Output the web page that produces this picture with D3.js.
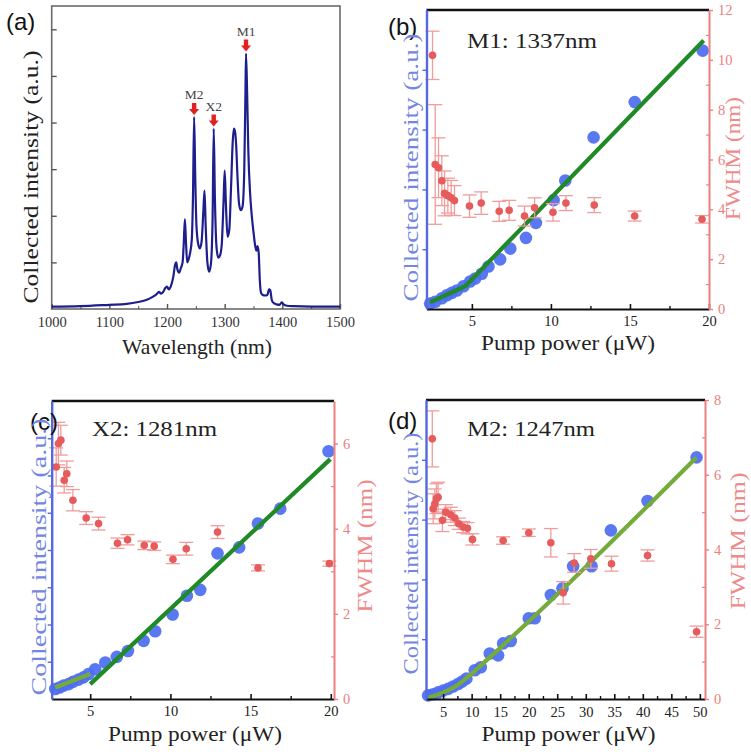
<!DOCTYPE html>
<html><head><meta charset="utf-8">
<script src="https://cdn.jsdelivr.net/npm/d3@7"></script>
<style>body{margin:0;background:#fff}svg{display:block}</style>
</head><body>
<script>
// ---------- DATA ----------
// (a) spectrum
const specWavelength = [1000,1050,1100,1130,1150,1165,1175,1182,1186,1189,1193,1197,1200,1203,1207,1211,1214,1216,1218,1221,1224,1227,1229,1231,1233,1235,1237,1240,1243,1245,1247,1249,1251,1254,1257,1260,1263,1265,1267,1270,1273,1276,1279,1281,1283,1286,1289,1292,1295,1298,1300,1302,1305,1308,1311,1314,1316,1318,1320,1322,1325,1328,1331,1334,1336,1337,1339,1341,1344,1347,1350,1353,1355,1357,1359,1361,1363,1366,1370,1374,1377,1379,1382,1386,1390,1395,1399,1402,1408,1420,1450,1500];
const specIntensity = [0.05,0.06,0.09,0.11,0.15,0.20,0.26,0.32,0.37,0.33,0.36,0.45,0.48,0.42,0.50,0.70,0.95,1.00,0.85,0.78,0.88,1.00,1.40,1.93,1.40,1.00,1.05,1.20,1.50,2.40,4.12,2.80,1.80,1.40,1.30,1.45,2.10,2.54,1.80,1.00,0.80,0.95,1.90,3.87,2.40,1.30,1.10,1.15,1.40,2.30,2.97,2.30,1.55,1.70,2.60,3.60,3.87,3.80,3.50,2.90,2.25,2.12,2.20,3.00,4.60,5.48,4.60,3.40,2.50,2.00,1.65,1.35,1.25,1.35,1.20,0.60,0.35,0.30,0.29,0.30,0.42,0.40,0.18,0.12,0.10,0.09,0.14,0.10,0.07,0.06,0.05,0.05];
const specTicks = [1000,1100,1200,1300,1400,1500];
const peakNames = ["M1","M2","X2"];
const peakWavelength = [1337,1247,1281];
const peakIntensity = [5.48,4.12,3.87];

// (b) M1: 1337nm
const bPower = [2.36,2.68,3.10,3.42,3.73,4.05,4.47,4.89,5.21,5.63,6.05,6.79,7.43,8.42,9.05,10.17,10.91,12.70,15.30,19.60];
const bIntensity = [0.09,0.12,0.18,0.23,0.27,0.31,0.38,0.46,0.51,0.59,0.71,0.83,1.01,1.19,1.44,1.82,2.15,2.87,3.46,4.32];
const bFwhmPower = [2.51,2.68,2.89,3.10,3.27,3.48,3.69,3.90,4.85,5.59,6.73,7.36,8.33,8.97,10.13,10.95,12.74,15.30,19.56];
const bFwhm = [10.18,5.80,5.67,5.15,4.64,4.55,4.46,4.35,4.13,4.25,3.92,3.96,3.73,4.06,3.88,4.25,4.17,3.73,3.60];
const bFwhmErr = [0.97,2.4,1.2,1.0,0.9,0.7,0.7,0.6,0.45,0.45,0.4,0.4,0.4,0.4,0.35,0.3,0.3,0.2,0.15];
const bFitPower = [2.36,4.58,19.66];
const bFitIntensity = [0.11,0.38,4.49];

// (c) X2: 1281nm
const cPower = [2.82,3.09,3.34,3.65,3.92,4.27,4.58,4.90,5.31,5.94,6.66,7.35,8.33,9.05,10.14,11.03,11.86,12.94,14.29,15.46,16.85,19.86];
const cIntensity = [0.27,0.31,0.36,0.40,0.46,0.52,0.58,0.67,0.80,0.98,1.13,1.29,1.56,1.82,2.27,2.77,2.93,3.91,4.07,4.71,5.11,6.65];
const cFwhmPower = [2.88,3.02,3.17,3.38,3.54,3.92,4.75,5.52,6.70,7.33,8.37,8.99,10.16,10.99,12.94,15.46,19.91];
const cFwhm = [5.45,6.00,6.08,5.14,5.29,4.67,4.25,4.12,3.66,3.74,3.61,3.59,3.28,3.53,3.92,3.08,3.18];
const cFwhmErr = [0.45,0.5,0.35,0.3,0.3,0.25,0.15,0.15,0.12,0.12,0.1,0.1,0.1,0.15,0.15,0.07,0.06];
const cFitLowPower = [2.82,5.0];
const cFitLowIntensity = [0.31,0.67];
const cFitHighPower = [5.0,19.97];
const cFitHighIntensity = [0.40,6.44];

// (d) M2: 1247nm
const dPower = [2.37,3.25,4.12,5.0,5.88,6.75,7.63,8.33,9.09,10.55,11.60,13.18,14.64,15.52,16.86,20.02,21.07,23.88,25.92,27.79,31.01,34.40,40.83,49.42];
const dIntensity = [0.06,0.08,0.11,0.14,0.17,0.21,0.25,0.29,0.34,0.48,0.53,0.76,0.73,0.93,0.97,1.35,1.35,1.74,1.85,2.22,2.22,2.82,3.31,4.04];
const dFwhmPower = [3.10,3.25,3.54,3.83,4.12,4.88,5.47,6.34,7.05,7.75,8.51,9.27,10.14,15.52,20.02,23.88,26.04,27.97,30.89,34.51,40.83,49.42];
const dFwhm = [6.96,5.09,5.22,5.36,5.40,4.78,5.00,4.93,4.84,4.69,4.60,4.57,4.27,4.24,4.45,4.18,2.84,3.64,3.75,3.62,3.84,1.80];
const dFwhmErr = [0.75,0.4,0.4,0.4,0.4,0.3,0.2,0.2,0.2,0.15,0.15,0.15,0.15,0.1,0.1,0.38,0.3,0.25,0.25,0.2,0.15,0.15];
const dFitPower = [2.37,5.0,7.63,9.97,12.3,49.4];
const dFitIntensity = [0.02,0.11,0.24,0.42,0.62,4.04];

// ---------- STYLE ----------
const SERIF = "'Liberation Serif','Times New Roman',Times,serif";
const SANS = "'Liberation Sans',Arial,sans-serif";
const BLUE_PT = "#4f6ef2", BLUE_AX = "#5468e0", BLUE_LBL = "#7486e2";
const RED_PT = "#e65c5c", RED_ERR = "#f09c9c", RED_AX = "#ec8080", RED_LBL = "#ee8a8a";
const GREEN = "#1f8a26", LIGHT_GREEN = "#74ab3a", NAVY = "#1e1e8c";

const svg = d3.select("body").append("svg").attr("width",751).attr("height",752);

function label(txt, x, y, opts) {
  const t = svg.append("text").attr("x",x).attr("y",y).text(txt)
    .style("font-family", opts.family || SERIF).style("font-size", (opts.size || 21) + "px")
    .attr("fill", opts.fill || "#222").attr("text-anchor", opts.anchor || "start");
  if (opts.rotate) t.attr("transform", `rotate(${opts.rotate},${x},${y})`);
  if (opts.len) t.attr("textLength", opts.len).attr("lengthAdjust","spacingAndGlyphs");
  return t;
}
function styleTickText(sel, fill) {
  sel.selectAll("text").style("font-family",SERIF).style("font-size","14.5px").attr("fill",fill);
}

// ---------- PANEL (a) ----------
(function(){
  const L=51.7, R=340, T=6, B=309;
  const x = d3.scaleLinear().domain([1000,1500]).range([L,R]);
  const y = d3.scaleLinear().domain([0,6.5]).range([B,T]);
  const g = svg.append("g");
  g.append("rect").attr("x",L).attr("y",T).attr("width",R-L).attr("height",B-T)
    .attr("fill","none").attr("stroke","#6a6a6a").attr("stroke-width",1.6);
  const ax = g.append("g").attr("transform",`translate(0,${B})`)
    .call(d3.axisBottom(x).tickValues(specTicks).tickSize(-5).tickPadding(8).tickFormat(d3.format("d")));
  ax.select(".domain").remove();
  ax.selectAll("line").attr("stroke","#555").attr("stroke-width",1.4);
  styleTickText(ax, "#333");
  const axm = g.append("g").attr("transform",`translate(0,${B})`)
    .call(d3.axisBottom(x).tickValues([1050,1150,1250,1350,1450]).tickSize(-3).tickFormat(""));
  axm.select(".domain").remove();
  axm.selectAll("text").remove();
  axm.selectAll("line").attr("stroke","#555");
  const ay = g.append("g").attr("transform",`translate(${L},0)`)
    .call(d3.axisLeft(y).tickValues([1,2,3,4,5,6]).tickSize(-5).tickFormat(""));
  ay.select(".domain").remove();
  ay.selectAll("text").remove();
  ay.selectAll("line").attr("stroke","#555").attr("stroke-width",1.4);
  g.append("path").datum(d3.zip(specWavelength, specIntensity))
    .attr("d", d3.line().x(d=>x(d[0])).y(d=>y(d[1])).curve(d3.curveMonotoneX))
    .attr("fill","none").attr("stroke",NAVY).attr("stroke-width",2.2);
  peakNames.forEach((n,i)=>{
    const px = x(peakWavelength[i]), tip = y(peakIntensity[i]) - 2;
    g.append("path")
      .attr("d",`M${px-2.2},${tip-12} L${px+2.2},${tip-12} L${px+2.2},${tip-6} L${px+5},${tip-6} L${px},${tip} L${px-5},${tip-6} L${px-2.2},${tip-6} Z`)
      .attr("fill","#e22020");
    label(n, px, tip-16, {size:13.5, anchor:"middle", fill:"#444"});
  });
  label("(a)", 6, 30, {family:SANS, size:24, fill:"#111"});
  label("Collected intensity (a.u.)", 38, 177, {size:21, anchor:"middle", rotate:-90, len:253});
  label("Wavelength (nm)", 197, 354, {size:21, anchor:"middle", len:150});
})();

// ---------- PANELS (b)(c)(d) ----------
function scatterPanel(c) {
  const x = d3.scaleLinear().domain(c.xDomain).range([c.L,c.R]);
  const yL = d3.scaleLinear().domain(c.yLeftDomain).range([c.B,c.T]);
  const yR = d3.scaleLinear().domain(c.yRightDomain).range([c.B,c.T]);
  const g = svg.append("g");
  g.append("g").selectAll("circle").data(d3.zip(c.power,c.intensity)).join("circle")
    .attr("cx",d=>x(d[0])).attr("cy",d=>yL(d[1])).attr("r",6.3).attr("fill",BLUE_PT).attr("fill-opacity",0.93);
  c.fits.forEach(f=>{
    g.append("path").datum(d3.zip(f.px,f.py))
      .attr("d", d3.line().x(d=>x(d[0])).y(d=>yL(d[1])).curve(f.curve||d3.curveLinear))
      .attr("fill","none").attr("stroke",f.color).attr("stroke-width",4.2).attr("stroke-linecap","butt");
  });
  const fw = d3.zip(c.fPower,c.fwhm,c.fErr);
  const eb = g.append("g").attr("stroke",RED_ERR).attr("stroke-width",1.3);
  fw.forEach(d=>{
    const cx = x(d[0]), y1 = yR(d[1]+d[2]), y2 = yR(d[1]-d[2]);
    eb.append("line").attr("x1",cx).attr("x2",cx).attr("y1",y1).attr("y2",y2);
    eb.append("line").attr("x1",cx-7).attr("x2",cx+7).attr("y1",y1).attr("y2",y1);
    eb.append("line").attr("x1",cx-7).attr("x2",cx+7).attr("y1",y2).attr("y2",y2);
  });
  g.append("g").selectAll("circle").data(fw).join("circle")
    .attr("cx",d=>x(d[0])).attr("cy",d=>yR(d[1])).attr("r",3.8).attr("fill",RED_PT);
  const ab = g.append("g").attr("transform",`translate(0,${c.B})`)
    .call(d3.axisBottom(x).tickValues(c.xTicks).tickSize(-5).tickPadding(c.xPad).tickSizeOuter(0).tickFormat(d3.format("d")));
  ab.select(".domain").attr("stroke","#111").attr("stroke-width",2.2);
  ab.selectAll("line").attr("stroke","#111").attr("stroke-width",1.6);
  styleTickText(ab, "#222");
  const abm = g.append("g").attr("transform",`translate(0,${c.B})`)
    .call(d3.axisBottom(x).tickValues(c.xMinor).tickSize(-3).tickSizeOuter(0).tickFormat(""));
  abm.select(".domain").remove();
  abm.selectAll("text").remove();
  abm.selectAll("line").attr("stroke","#111").attr("stroke-width",1.4);
  g.append("line").attr("x1",c.L).attr("x2",c.R).attr("y1",c.T).attr("y2",c.T).attr("stroke","#111").attr("stroke-width",2.4);
  const al = g.append("g").attr("transform",`translate(${c.L},0)`)
    .call(d3.axisLeft(yL).tickValues(c.leftTicks).tickSize(4).tickSizeOuter(0).tickFormat(""));
  al.select(".domain").attr("stroke",BLUE_AX).attr("stroke-width",2.4);
  al.selectAll("text").remove();
  al.selectAll("line").attr("stroke",BLUE_AX).attr("stroke-width",1.4);
  const ar = g.append("g").attr("transform",`translate(${c.R},0)`)
    .call(d3.axisRight(yR).tickValues(c.rightTicks).tickSize(4).tickPadding(5).tickSizeOuter(0).tickFormat(d3.format("d")));
  ar.select(".domain").attr("stroke",RED_AX).attr("stroke-width",2);
  ar.selectAll("line").attr("stroke",RED_AX).attr("stroke-width",1.4);
  styleTickText(ar, RED_AX);
  const arm = g.append("g").attr("transform",`translate(${c.R},0)`)
    .call(d3.axisRight(yR).tickValues(c.rightMinor).tickSize(-3).tickSizeOuter(0).tickFormat(""));
  arm.select(".domain").remove();
  arm.selectAll("text").remove();
  arm.selectAll("line").attr("stroke",RED_AX).attr("stroke-width",1.2);
  label(c.letter, c.letterX, c.letterY, {family:SANS, size:24, fill:"#111"});
  label(c.title, c.titleX, c.titleY, {size:22, len:c.titleLen, fill:"#222"});
  label("Collected intensity (a.u.)", c.ylX, c.ylY, {size:21, anchor:"middle", rotate:-90, len:c.ylLen, fill:BLUE_LBL});
  label("FWHM (nm)", c.yrX, c.yrY, {size:21, anchor:"middle", rotate:-90, len:c.yrLen, fill:RED_LBL});
  label("Pump power (\u03bcW)", c.xlX, c.xlY, {size:21.5, anchor:"middle", len:174, fill:"#222"});
}

scatterPanel({
  L:426.5, R:709, T:10, B:309,
  xDomain:[2.13,20], yLeftDomain:[0,5], yRightDomain:[0,12],
  power:bPower, intensity:bIntensity, fPower:bFwhmPower, fwhm:bFwhm, fErr:bFwhmErr,
  fits:[{px:bFitPower, py:bFitIntensity, color:GREEN}],
  xTicks:[5,10,15,20], xMinor:[7.5,12.5,17.5], xPad:7,
  leftTicks:[1,2,3,4], rightTicks:[0,2,4,6,8,10,12], rightMinor:[1,3,5,7,9,11],
  letter:"(b)", letterX:388, letterY:35,
  title:"M1: 1337nm", titleX:467, titleY:48, titleLen:130,
  ylX:418, ylY:167.5, ylLen:268,
  yrX:740, yrY:158.5, yrLen:123,
  xlX:568, xlY:350
});

scatterPanel({
  L:51.7, R:334, T:401, B:699,
  xDomain:[2.6,20.2], yLeftDomain:[0,8], yRightDomain:[0,7],
  power:cPower, intensity:cIntensity, fPower:cFwhmPower, fwhm:cFwhm, fErr:cFwhmErr,
  fits:[{px:cFitLowPower, py:cFitLowIntensity, color:LIGHT_GREEN},{px:cFitHighPower, py:cFitHighIntensity, color:GREEN}],
  xTicks:[5,10,15,20], xMinor:[7.5,12.5,17.5], xPad:7,
  leftTicks:[1,2,3,4,5,6,7], rightTicks:[0,2,4,6], rightMinor:[1,3,5],
  letter:"(c)", letterX:30, letterY:430,
  title:"X2: 1281nm", titleX:92, titleY:436, titleLen:125,
  ylX:46, ylY:557, ylLen:277,
  yrX:372, yrY:546, yrLen:133,
  xlX:195, xlY:741
});

scatterPanel({
  L:426, R:705, T:400, B:699,
  xDomain:[2,50.9], yLeftDomain:[0,5], yRightDomain:[0,8],
  power:dPower, intensity:dIntensity, fPower:dFwhmPower, fwhm:dFwhm, fErr:dFwhmErr,
  fits:[{px:dFitPower, py:dFitIntensity, color:LIGHT_GREEN, curve:d3.curveMonotoneX}],
  xTicks:[5,10,15,20,25,30,35,40,45,50], xMinor:[7.5,12.5,17.5,22.5,27.5,32.5,37.5,42.5,47.5], xPad:8,
  leftTicks:[1,2,3,4], rightTicks:[0,2,4,6,8], rightMinor:[1,3,5,7],
  letter:"(d)", letterX:388, letterY:429,
  title:"M2: 1247nm", titleX:467, titleY:436, titleLen:128,
  ylX:418, ylY:553.5, ylLen:242,
  yrX:745, yrY:541, yrLen:137,
  xlX:568.5, xlY:741
});
</script>
</body></html>
